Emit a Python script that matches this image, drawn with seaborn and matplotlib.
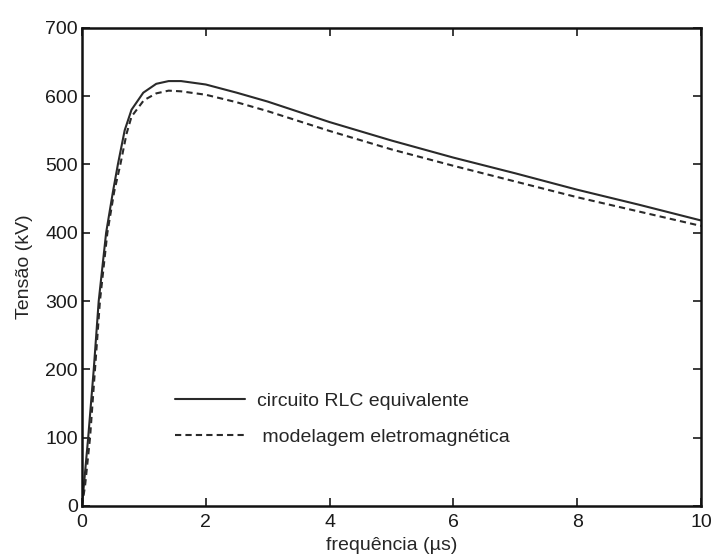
import matplotlib
matplotlib.use("Agg")
import matplotlib.pyplot as plt
import seaborn as sns
import pandas as pd

# time axis (us) and voltage (kV)
t_rlc = [0, 0.05, 0.1, 0.19, 0.27, 0.39, 0.5, 0.58, 0.69, 0.8, 0.99, 1.2, 1.4, 1.6,
         2.0, 2.5, 3, 4, 5, 6, 7, 8, 9, 10]
v_rlc = [0, 50, 100, 200, 300, 400, 460, 500, 550, 580, 605, 618, 622, 622,
         617, 605, 592, 562, 535, 510, 487, 463, 441, 418]

t_em = [0, 0.05, 0.13, 0.21, 0.29, 0.41, 0.52, 0.62, 0.72, 0.8, 1.0, 1.2, 1.4, 1.6,
        2.0, 2.5, 3, 4, 5, 6, 7, 8, 9, 10]
v_em = [0, 30, 100, 200, 300, 400, 460, 500, 545, 570, 594, 604, 608, 607,
        602, 591, 578, 549, 522, 498, 475, 452, 431, 410]

labels = ["circuito RLC equivalente", " modelagem eletromagnética"]

df_rlc = pd.DataFrame({"t": t_rlc, "v": v_rlc})
df_em = pd.DataFrame({"t": t_em, "v": v_em})

sns.set_style("ticks")
plt.rcParams["font.family"] = ["Liberation Sans", "DejaVu Sans"]

fig = plt.figure(figsize=(7.13, 5.56), dpi=100)
ax = fig.add_axes([0.115, 0.09, 0.868, 0.86])

sns.lineplot(data=df_rlc, x="t", y="v", ax=ax, color="#2a2a2a", lw=1.5,
             label=labels[0])
sns.lineplot(data=df_em, x="t", y="v", ax=ax, color="#2a2a2a", lw=1.5,
             label=labels[1])
ax.lines[1].set_dashes((3, 2))

ax.set_xlim(0, 10)
ax.set_ylim(0, 700)
ax.set_xticks([0, 2, 4, 6, 8, 10])
ax.set_yticks(range(0, 701, 100))
ax.tick_params(direction="in", length=6, width=1.2, top=True, right=True,
               labelsize=14, colors="#1a1a1a")
ax.tick_params(axis="x", pad=6)
ax.tick_params(axis="y", pad=3)
for s in ax.spines.values():
    s.set_linewidth(1.8)
    s.set_color("#111111")

ax.set_xlabel("frequência (µs)", fontsize=14, labelpad=4)
ax.set_ylabel("Tensão (kV)", fontsize=14, labelpad=9)

ax.legend(loc="upper left", bbox_to_anchor=(0.150, 0.238), frameon=False,
          fontsize=14, handlelength=3.6, handletextpad=0.65, labelspacing=0.95,
          borderpad=0, borderaxespad=0)

fig.savefig("out.png", dpi=100)
